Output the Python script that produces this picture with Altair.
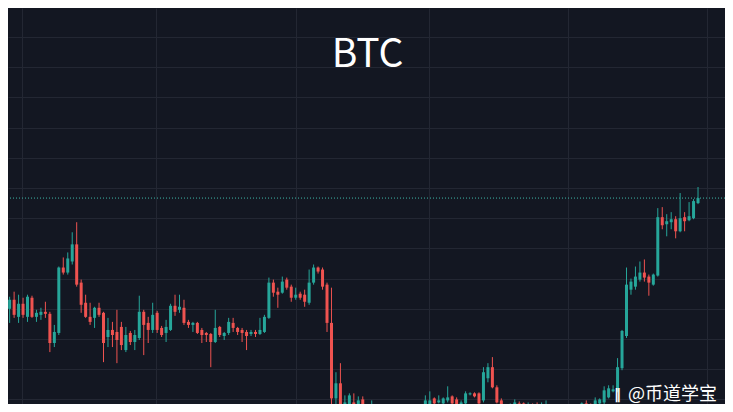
import altair as alt
import pandas as pd
import numpy as np

# ---- data (price units, one candle per slot) ----
OPEN = [
    65260, 64970, 65000, 65090, 64920, 65050, 64920, 65110, 64920, 64940,
    64970, 64950, 64660, 64760, 65410, 65360, 65470, 65640, 65260, 65060,
    64920, 64910, 65010, 64960, 64720, 64790, 64770, 64820, 64590, 64760,
    64670, 64710, 64970, 64860, 64790, 64960, 64810, 64760, 64790, 65030,
    64990, 65010, 64870, 64840, 64860, 64790, 64760, 64750, 64670, 64820,
    64730, 64760, 64860, 64810, 64790, 64770, 64750, 64770, 64750, 64770,
    64910, 65260, 65170, 65160, 65290, 65220, 65110, 65150, 65140, 65060,
    65260, 65410, 65390, 65240, 64860, 64110, 64260, 64040, 63970, 64070,
    63970, 64100, 63950, 63950, 63990, 64000, 63890, 63950, 63930, 63940,
    63950, 63960, 63960, 63980, 63960, 63950, 64040, 64110, 64070, 64060,
    64090, 64130, 64100, 64040, 64060, 64150, 64160, 64160, 64090, 64310,
    64420, 64220, 64090, 64000, 63950, 63950, 64060, 64060, 63950, 64040,
    64040, 64020, 64020, 64020, 63960, 63990, 63920, 63930, 63950, 64010,
    63950, 64060, 64040, 64040, 64060, 64070, 64120, 64180, 64180, 64410,
    64730, 65190, 65220, 65290, 65360, 65320, 65240, 65330, 65910, 65840,
    65860, 65890, 65770, 65910, 65880, 65900, 66050,
]
HIGH = [
    65280, 65060, 65120, 65170, 65140, 65110, 65140, 65130, 64990, 65010,
    65070, 64970, 64840, 65420, 65510, 65560, 65760, 65860, 65290, 65140,
    65060, 65020, 65060, 64970, 64910, 64870, 64990, 64870, 64820, 64780,
    64790, 65130, 64990, 64920, 65060, 64980, 64830, 64890, 65050, 65140,
    65140, 65090, 64890, 64870, 64870, 64810, 64770, 64760, 64990, 64830,
    64770, 64910, 64910, 64820, 64810, 64790, 64790, 64790, 64910, 64940,
    65310, 65290, 65210, 65320, 65310, 65240, 65210, 65170, 65190, 65390,
    65440, 65420, 65410, 65260, 65210, 64370, 64460, 64140, 64160, 64160,
    64130, 64130, 64040, 64090, 64040, 64040, 63970, 63960, 64040, 64030,
    64010, 64020, 63980, 64000, 63980, 64140, 64180, 64120, 64140, 64120,
    64230, 64140, 64120, 64090, 64180, 64170, 64170, 64170, 64420, 64460,
    64520, 64240, 64110, 64040, 64060, 64100, 64080, 64070, 64070, 64060,
    64070, 64070, 64090, 64040, 63980, 64000, 63990, 63980, 64020, 64040,
    64070, 64090, 64060, 64120, 64110, 64230, 64240, 64240, 64510, 64790,
    65410, 65300, 65420, 65470, 65490, 65340, 65350, 66000, 66010, 65940,
    65960, 65920, 66150, 65960, 66060, 66090, 66210,
]
LOW = [
    64960, 64940, 64860, 64910, 64860, 64910, 64870, 64910, 64870, 64890,
    64910, 64570, 64620, 64740, 65340, 65340, 65440, 65220, 64960, 64910,
    64840, 64810, 64920, 64470, 64620, 64620, 64460, 64590, 64570, 64640,
    64590, 64690, 64540, 64660, 64760, 64760, 64720, 64670, 64780, 64930,
    64960, 64840, 64810, 64770, 64750, 64660, 64670, 64420, 64660, 64720,
    64690, 64740, 64770, 64740, 64670, 64590, 64730, 64720, 64740, 64760,
    64900, 65120, 65010, 65150, 65190, 65070, 65090, 65090, 65020, 65040,
    65240, 65350, 65190, 64770, 63970, 63970, 63970, 63970, 63940, 63940,
    63940, 63930, 63930, 63930, 63910, 63910, 63850, 63860, 63910, 63910,
    63910, 63930, 63890, 63910, 63890, 63930, 64020, 64020, 64060, 64050,
    64070, 64040, 64010, 64020, 64050, 64140, 64120, 64040, 64070, 64270,
    64210, 64060, 63950, 63930, 63930, 63930, 63950, 63930, 63930, 64010,
    64010, 64010, 64010, 63930, 63890, 63920, 63890, 63890, 63930, 63950,
    63930, 64010, 64000, 64020, 64050, 64050, 64110, 64170, 64170, 64390,
    64710, 65140, 65190, 65270, 65270, 65130, 65230, 65320, 65790, 65720,
    65790, 65700, 65760, 65770, 65870, 65890, 66040,
]
CLOSE = [
    64970, 65020, 65090, 64940, 65050, 64940, 65120, 64920, 64960, 64970,
    64950, 64660, 64770, 65410, 65360, 65500, 65640, 65240, 65040, 64920,
    64870, 65010, 64940, 64660, 64790, 64740, 64690, 64640, 64740, 64670,
    64740, 64970, 64840, 64790, 64940, 64790, 64740, 64820, 65030, 64970,
    65020, 64860, 64840, 64860, 64760, 64740, 64740, 64670, 64810, 64740,
    64760, 64870, 64810, 64770, 64760, 64730, 64770, 64750, 64790, 64920,
    65260, 65160, 65140, 65270, 65210, 65110, 65140, 65110, 65070, 65260,
    65410, 65370, 65220, 64860, 64110, 64260, 64040, 64070, 64140, 63970,
    64090, 63960, 64010, 64000, 63950, 63950, 63950, 63890, 63990, 63990,
    63980, 64000, 63910, 63950, 63910, 64090, 64090, 64060, 64090, 64110,
    64120, 64060, 64020, 64070, 64160, 64160, 64130, 64060, 64370, 64420,
    64220, 64070, 63980, 63970, 63990, 64070, 64040, 63950, 64040, 64020,
    64020, 64040, 64040, 63950, 63910, 63950, 63970, 63970, 64010, 63990,
    64060, 64040, 64020, 64090, 64100, 64190, 64210, 64200, 64420, 64780,
    65240, 65270, 65320, 65360, 65310, 65260, 65340, 65910, 65830, 65870,
    65890, 65770, 65900, 65870, 65920, 66070, 66100,
]
# vertical grid (time ticks, in candle-slot units) and horizontal grid (price ticks)
TIME_GRID = [4.83, 34.74, 66.0, 95.88, 126.98, 158.12]
PRICE_GRID = [64100, 64400, 64700, 65000, 65300, 65600, 65900, 66200,
              66500, 66800, 67100, 67400, 67700]
TITLE = ["BTC"]
WATERMARK = ["@币道学宝"]
LOGO = ["‖"]

# ---- layout / style ----
MARGIN = 8
WIN_W, WIN_H = 733, 412
W = WIN_W - 2 * MARGIN
H = WIN_H - 2 * MARGIN
STEP = 4.47          # px per candle slot
X0 = 0.7             # window x of first slot
PRICE_PER_PX = 300 / 30.2
ANCHOR_P, ANCHOR_Y = 65000, 308.8

BG = "#131722"
GRID = "#232733"
UP = "#26a69a"
DOWN = "#ef5350"
PLINE = "#3fb6a8"

x_dom = [(MARGIN - X0) / STEP, (MARGIN - X0) / STEP + W / STEP]
y_dom = [ANCHOR_P - PRICE_PER_PX * (MARGIN + H - ANCHOR_Y),
         ANCHOR_P + PRICE_PER_PX * (ANCHOR_Y - MARGIN)]

df = pd.DataFrame({
    "t": np.arange(len(OPEN)),
    "open": OPEN, "high": HIGH, "low": LOW, "close": CLOSE,
})
df["dir"] = np.where(df["close"] >= df["open"], "up", "down")

xs = alt.Scale(domain=x_dom, nice=False, zero=False)
ys = alt.Scale(domain=y_dom, nice=False, zero=False)
xaxis = alt.Axis(values=TIME_GRID, labels=False, ticks=False, domain=False,
                 grid=True, title=None, gridColor=GRID, gridWidth=1, gridOpacity=1)
yaxis = alt.Axis(values=PRICE_GRID, labels=False, ticks=False, domain=False,
                 grid=True, title=None, gridColor=GRID, gridWidth=1, gridOpacity=1)
color = alt.Color("dir:N", scale=alt.Scale(domain=["up", "down"], range=[UP, DOWN]),
                  legend=None)

base = alt.Chart(df)
wicks = base.mark_rule(strokeWidth=1, clip=True).encode(
    x=alt.X("t:Q", scale=xs, axis=xaxis),
    y=alt.Y("low:Q", scale=ys, axis=yaxis),
    y2="high:Q",
    color=color,
)
bodies = base.mark_rule(strokeWidth=3, clip=True).encode(
    x=alt.X("t:Q", scale=xs, axis=xaxis),
    y=alt.Y("open:Q", scale=ys, axis=yaxis),
    y2="close:Q",
    color=color,
)
pline = alt.Chart(df.tail(1)).mark_rule(
    strokeDash=[1, 2], strokeWidth=1, color=PLINE, clip=True
).encode(y=alt.Y("close:Q", scale=ys, axis=yaxis))

title = alt.Chart(pd.DataFrame({"label": TITLE})).mark_text(
    font="Noto Sans CJK SC", fontSize=39, color="#ffffff",
    align="center", baseline="alphabetic",
).encode(text="label:N", x=alt.value(367.5 - MARGIN), y=alt.value(67 - MARGIN))

wm = alt.Chart(pd.DataFrame({"label": WATERMARK})).mark_text(
    font="Noto Sans CJK SC", fontSize=18, color="#ffffff",
    align="left", baseline="alphabetic",
).encode(text="label:N", x=alt.value(628 - MARGIN), y=alt.value(400 - MARGIN))

logo = alt.Chart(pd.DataFrame({"label": LOGO})).mark_text(
    font="DejaVu Sans", fontSize=14, fontWeight="bold", color="#ffffff",
    align="left", baseline="alphabetic",
).encode(text="label:N", x=alt.value(614 - MARGIN), y=alt.value(399 - MARGIN))

chart = alt.layer(pline, wicks, bodies, title, wm, logo).properties(
    width=W, height=H, background=BG, padding=0,
    autosize=alt.AutoSizeParams(type="none"),
).configure_view(stroke=None)

chart.save("out.html", embed_options={"renderer": "svg", "actions": False})
